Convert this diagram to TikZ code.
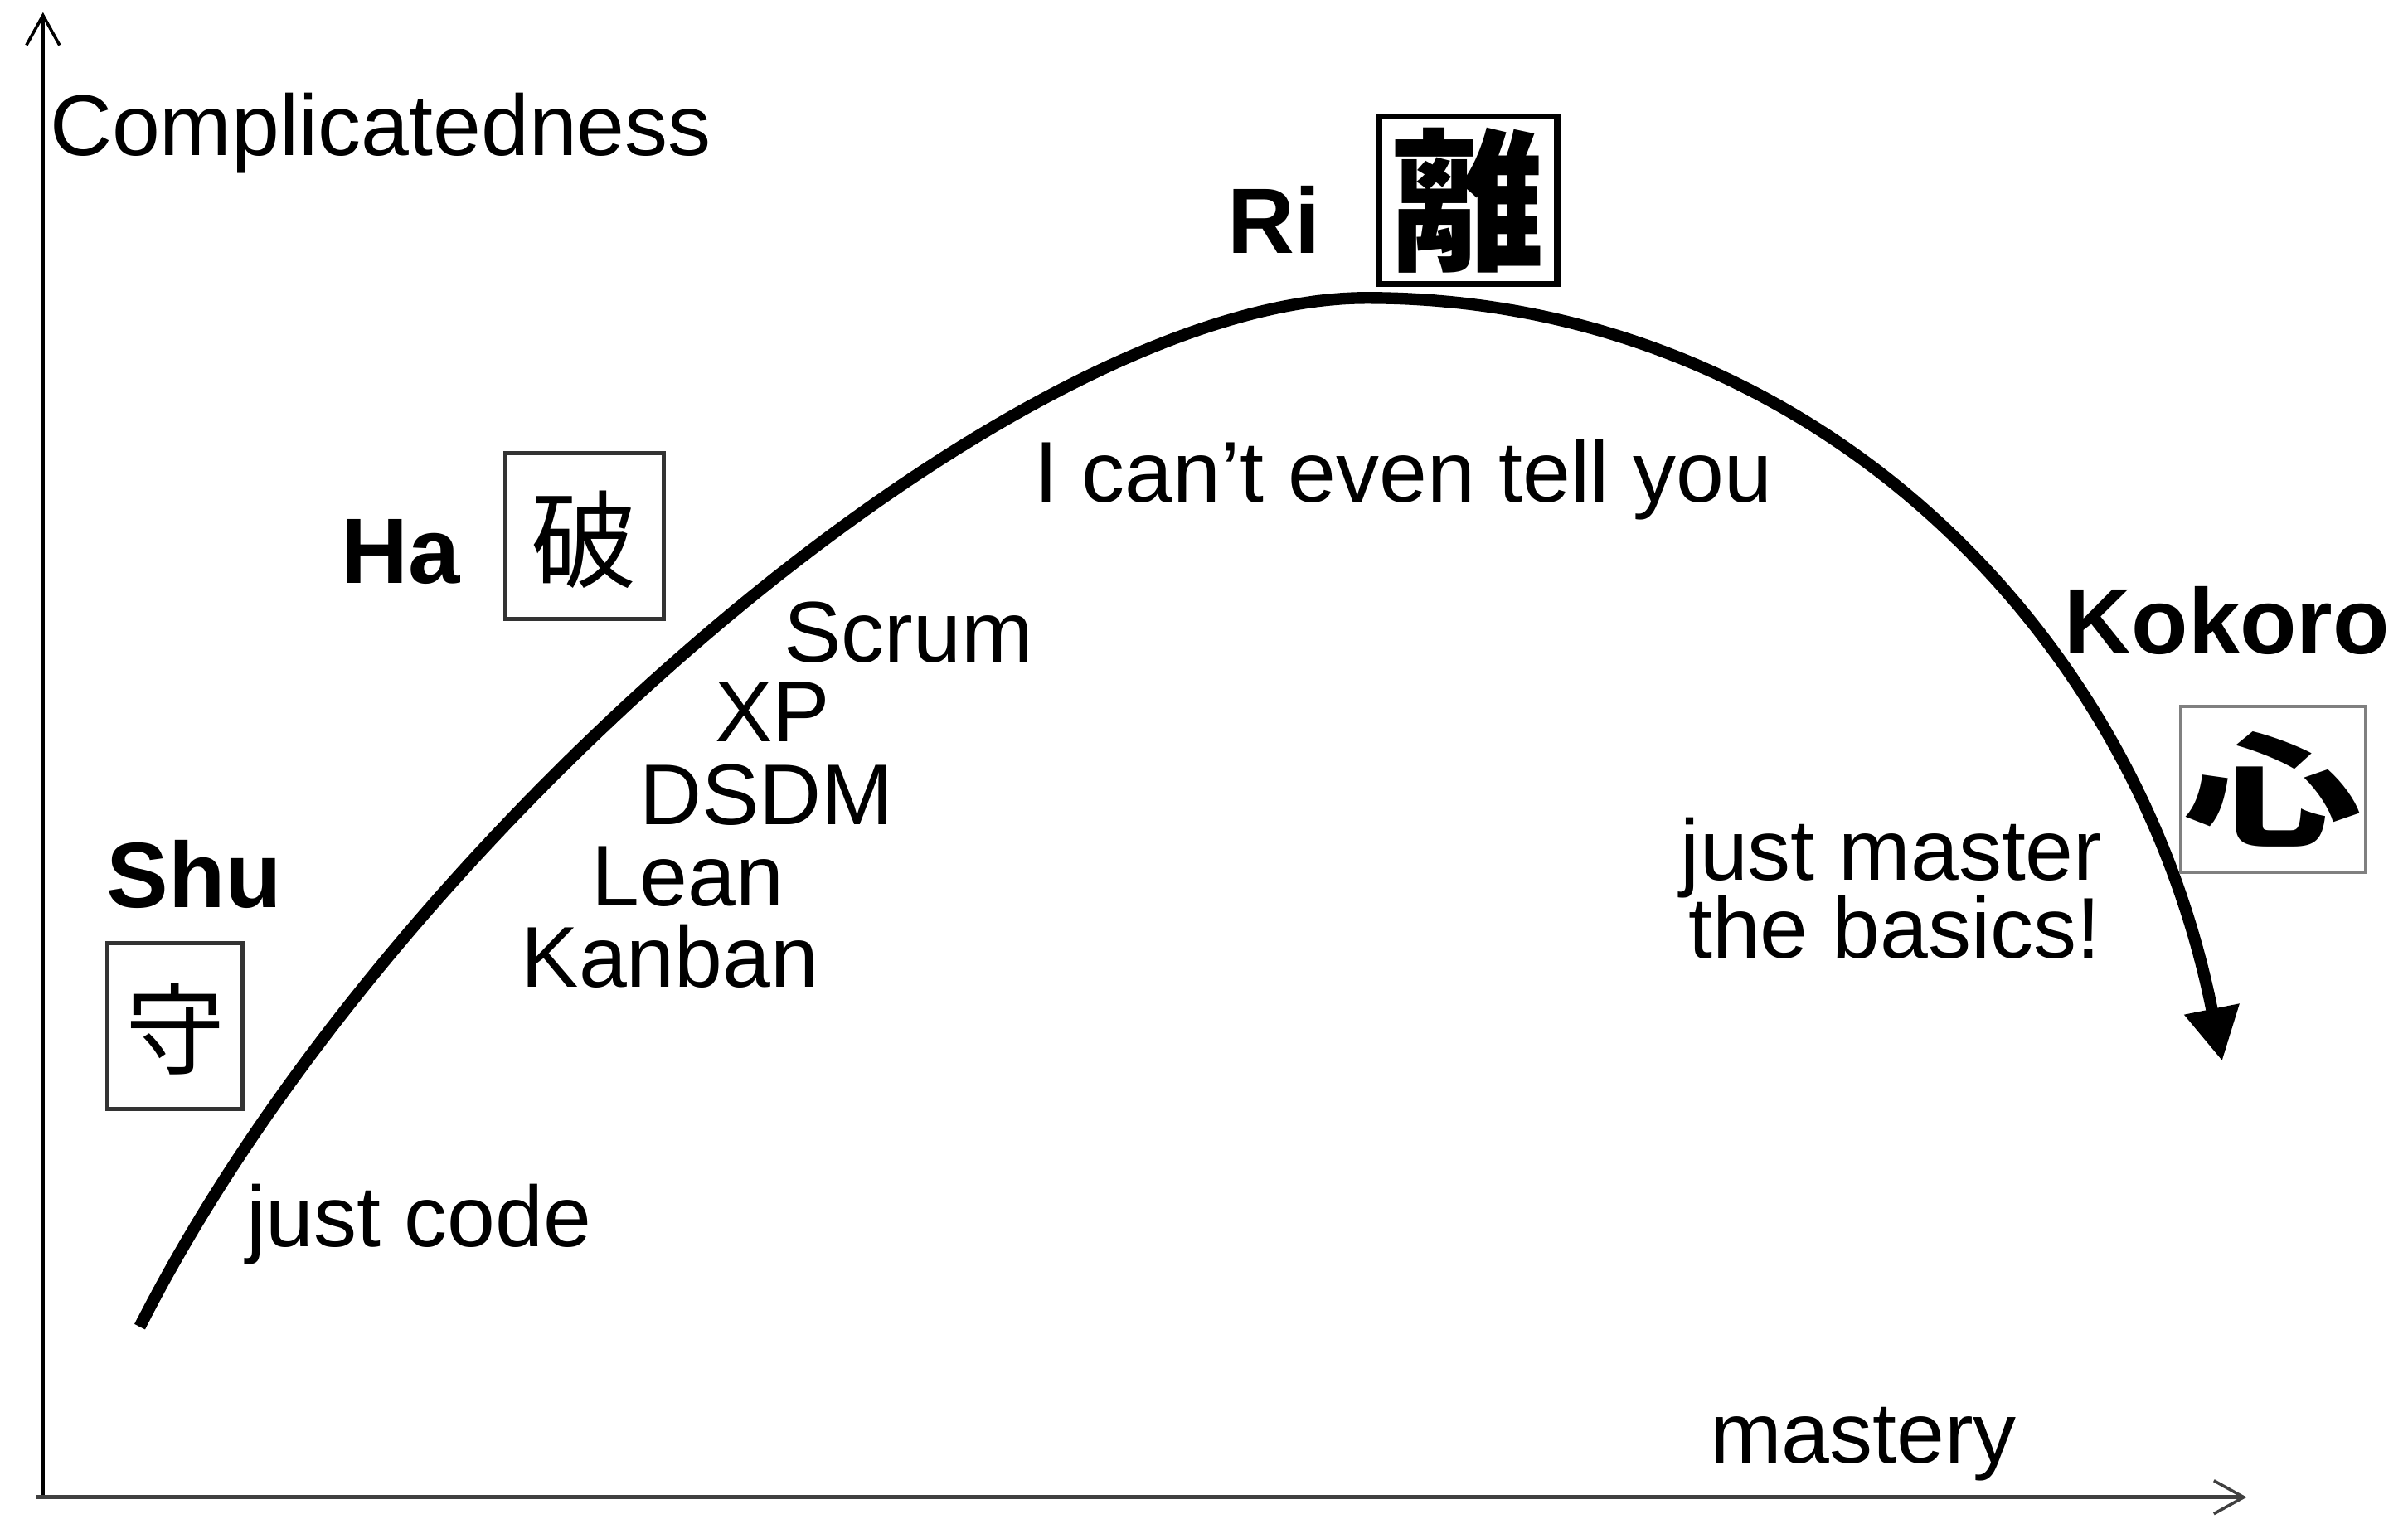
\documentclass[tikz,border=0pt]{standalone}
\usepackage{fontspec}
\setmainfont{Liberation Sans}
\newfontfamily\cjk{Noto Sans CJK JP}
\usetikzlibrary{arrows.meta}
\begin{document}
\begin{tikzpicture}[x=0.463pt,y=-0.463pt,
  txt/.style={inner sep=0pt,anchor=base west,font=\fontsize{26}{30}\selectfont},
  lbl/.style={inner sep=0pt,anchor=base west,font=\fontsize{28}{32}\selectfont\bfseries},
  kbox/.style={draw,inner sep=0pt},
  kanji/.style={inner sep=0pt},
  axisline/.style={line width=0.9pt,-{Straight Barb[length=9pt,width=10pt,line width=0.9pt]}},
  curveline/.style={line width=3.6pt,-{Triangle[width=16pt,length=16pt]}}
]
\useasboundingbox (0,0) rectangle (1568,989);
% axes
\coordinate (orig) at (28,975);
\coordinate (ytip) at (28,8);
\coordinate (xstart) at (24,975);
\coordinate (xtip) at (1463,975);
\draw[axisline] (orig) -- (ytip);
\draw[axisline, line width=1.2pt, draw=black!75] (xstart) -- (xtip);
% curve
\coordinate (c0) at (91,864);
\coordinate (peak) at (890,194);
\coordinate (ctip) at (1447,691);
\draw[curveline] (c0) .. controls (253,543.6) and (660,194) .. (peak)
  .. controls (1170,194) and (1389,401) .. (ctip);
% axis labels
\node[txt] (yl) at (32,101) {Complicatedness};
\node[txt] (xl) at (1113,953) {mastery};
% stage labels
\node[lbl] (shu) at (69,591) {Shu};
\node[lbl] (ha) at (222,380) {Ha};
\node[lbl] (ri) at (799,165) {Ri};
\node[lbl] (kokoro) at (1344,426) {Kokoro};
% kanji boxes
\node[kbox, line width=1.2pt, draw=black!80, minimum width=40.7pt, minimum height=50pt] (shubox) at (114,668) {};
\node[kanji, font=\cjk\fontsize{30}{30}\selectfont] (shuk) at ([yshift=-1pt]shubox.center) {守};
\node[kbox, line width=1.2pt, draw=black!80, minimum width=47.7pt, minimum height=50pt] (habox) at (380.5,349) {};
\node[kanji, font=\cjk\fontsize{32}{32}\selectfont] (hak) at ([yshift=-1pt]habox.center) {破};
\node[kbox, line width=1.8pt, minimum width=53.7pt, minimum height=50.5pt] (ribox) at (956,130.5) {};
\node[kanji, font=\cjk\bfseries\fontsize{46}{46}\selectfont] (rik) at (ribox.center) {離};
\node[kbox, line width=0.8pt, draw=black!50, minimum width=55.6pt, minimum height=50pt] (kokorobox) at (1480,514) {};
\node[kanji, font=\cjk\bfseries\fontsize{37}{37}\selectfont] (kokorok) at (kokorobox.center) {\scalebox{1.45}[1]{心}};
% texts
\node[txt] (cant) at (673,327) {I can’t even tell you};
\node[txt] (scrum) at (510,431) {Scrum};
\node[txt] (xp) at (465,483) {XP};
\node[txt] (dsdm) at (416,537) {DSDM};
\node[txt] (lean) at (385,590) {Lean};
\node[txt] (kanban) at (339,643) {Kanban};
\node[txt] (jm1) at (1094,573) {just master};
\node[txt] (jm2) at (1099,624) {the basics!};
\node[txt] (jc) at (160,812) {just code};
\end{tikzpicture}
\end{document}
